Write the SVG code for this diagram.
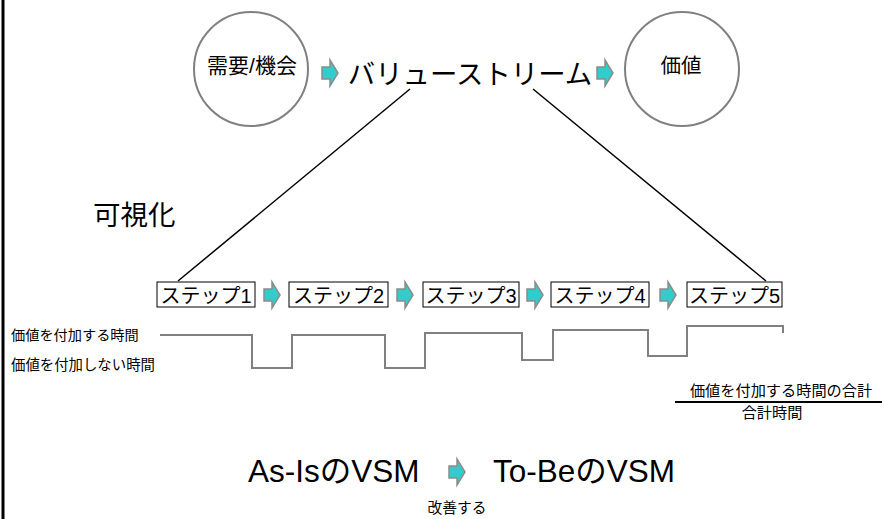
<svg xmlns="http://www.w3.org/2000/svg" width="884" height="519" viewBox="0 0 884 519">
<style>
text{font-family:"Liberation Sans","Noto Sans CJK JP",sans-serif;fill:#000}
.c{fill:#fff;stroke:#808080;stroke-width:2}
.box{fill:#fff;stroke:#000;stroke-width:1}
.arr{fill:#33CCCC;stroke:#8c8c8c;stroke-width:1.5;stroke-linejoin:miter}
.ln{stroke:#000;stroke-width:1.5;fill:none}
.wave{stroke:#808080;stroke-width:2;fill:none}
</style>
<defs>
<polygon id="arrS" class="arr" points="0,7 8,7 8,0 16,13 8,26 8,19 0,19"/>
</defs>
<rect x="0" y="0" width="884" height="519" fill="#fff"/>
<line x1="3" y1="0" x2="3" y2="519" stroke="#000" stroke-width="3"/>
<g id="connectors">
<line class="ln" x1="410" y1="89" x2="178" y2="281"/>
<line class="ln" x1="533" y1="89" x2="766" y2="281"/>
<use href="#arrS" x="322" y="60"/>
<use href="#arrS" x="597" y="60"/>
<use href="#arrS" x="264" y="282"/>
<use href="#arrS" x="397" y="282"/>
<use href="#arrS" x="527" y="282"/>
<use href="#arrS" x="660" y="282"/>
<use href="#arrS" x="449" y="459"/>
</g>
<g id="demand"><circle class="c" cx="251" cy="69" r="57"/><text x="252" y="73" font-size="21" text-anchor="middle">需要/機会</text></g>
<g id="valuestream"><text x="470" y="84" font-size="27.4" text-anchor="middle">バリューストリーム</text></g>
<g id="value"><circle class="c" cx="682" cy="69" r="57"/><text x="681" y="73" font-size="20.5" text-anchor="middle">価値</text></g>
<g id="visualize"><text x="93" y="225" font-size="27.5">可視化</text></g>
<g id="step1"><rect class="box" x="157" y="282" width="98" height="25"/><text x="206" y="303" font-size="20" text-anchor="middle">ステップ1</text></g>
<g id="step2"><rect class="box" x="289" y="282" width="99" height="25"/><text x="338.5" y="303" font-size="20" text-anchor="middle">ステップ2</text></g>
<g id="step3"><rect class="box" x="423" y="282" width="96" height="25"/><text x="471" y="303" font-size="20" text-anchor="middle">ステップ3</text></g>
<g id="step4"><rect class="box" x="551" y="282" width="98" height="25"/><text x="600" y="303" font-size="20" text-anchor="middle">ステップ4</text></g>
<g id="step5"><rect class="box" x="687" y="282" width="95" height="25"/><text x="734.5" y="303" font-size="20" text-anchor="middle">ステップ5</text></g>
<g id="timeline">
<polyline class="wave" points="160,335 252,335 252,368 292,368 292,335 385,335 385,368 425,368 425,333 522,333 522,360 553,360 553,330 648,330 648,356 687,356 687,326 783,326 783,333"/>
<text x="11" y="340" font-size="14.2">価値を付加する時間</text>
<text x="11" y="370" font-size="14.4">価値を付加しない時間</text>
</g>
<g id="ratio">
<text x="781" y="396" font-size="15.2" text-anchor="middle">価値を付加する時間の合計</text>
<line x1="675" y1="402" x2="882" y2="402" stroke="#000" stroke-width="2"/>
<text x="772" y="418" font-size="15.2" text-anchor="middle">合計時間</text>
</g>
<g id="asis"><text x="248" y="482" font-size="31.5">As-IsのVSM</text></g>
<g id="tobe"><text x="493" y="482" font-size="31.5">To-BeのVSM</text></g>
<g id="improve"><text x="457" y="513" font-size="14.7" text-anchor="middle">改善する</text></g>
</svg>
